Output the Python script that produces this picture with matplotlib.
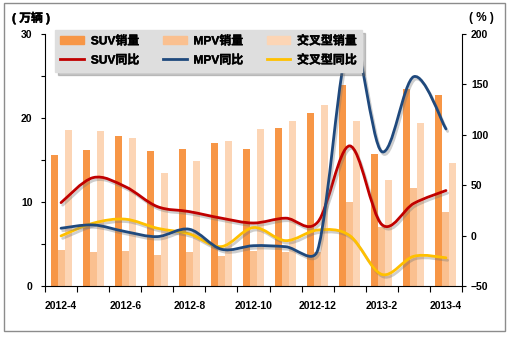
import matplotlib
matplotlib.use("Agg")
import matplotlib.pyplot as plt
import matplotlib.patheffects as pe
from matplotlib.path import Path
from matplotlib.patches import PathPatch, Patch, Rectangle
from matplotlib.lines import Line2D
import numpy as np

plt.rcParams['font.family'] = ['Liberation Sans', 'Noto Sans CJK SC', 'DejaVu Sans']

months = ['2012-4', '2012-5', '2012-6', '2012-7', '2012-8', '2012-9', '2012-10',
          '2012-11', '2012-12', '2013-1', '2013-2', '2013-3', '2013-4']

# sales, 10k vehicles
suv_sales = [15.6, 16.2, 17.9, 16.1, 16.3, 17.0, 16.3, 18.8, 20.6, 23.9, 15.7, 23.4, 22.7]
mpv_sales = [4.3, 4.0, 4.2, 3.7, 4.0, 3.6, 4.2, 4.0, 4.0, 10.0, 7.0, 11.7, 8.8]
cross_sales = [18.6, 18.5, 17.6, 13.5, 14.9, 17.3, 18.7, 19.6, 21.5, 19.6, 12.6, 19.4, 14.6]

# year-on-year growth, %
suv_yoy = [32.7, 57.5, 48.6, 28.8, 23.8, 17.3, 12.5, 17.3, 13.3, 89.0, 11.0, 32.0, 44.7]
mpv_yoy = [7.3, 10.6, 4.0, -1.0, 6.3, -13.5, -10.0, -11.0, -14.5, 195.0, 83.3, 157.7, 105.8]
cross_yoy = [-0.3, 12.3, 16.3, 7.3, 1.7, -10.9, 8.0, -5.0, 5.5, 0.0, -38.5, -20.5, -22.0]

c_suv, c_mpv, c_cross = '#F79646', '#FAC090', '#FCD5B5'
l_suv, l_mpv, l_cross = '#C00000', '#1F497D', '#FFC000'

W, H = 511, 337
AX_L, AX_B, AX_W, AX_H = 45, 51, 417, 252


def smooth_path(xs, ys, sx, sy):
    # spreadsheet-style smoothed line: Bezier segments whose control arms
    # are 1/6 of the neighbour chord, capped at half the segment length
    p = np.column_stack([np.asarray(xs) * sx, np.asarray(ys) * sy]).astype(float)
    ext = np.vstack([p[0], p, p[-1]])
    verts = [p[0]]
    codes = [Path.MOVETO]
    for i in range(len(p) - 1):
        p0, p1, p2, p3 = ext[i], ext[i + 1], ext[i + 2], ext[i + 3]
        d12 = np.hypot(*(p2 - p1))
        d02 = np.hypot(*(p2 - p0))
        d13 = np.hypot(*(p3 - p1))
        f1 = 1 / 6 if d02 / 6 < d12 / 2 else d12 / (2 * d02)
        f2 = 1 / 6 if d13 / 6 < d12 / 2 else d12 / (2 * d13)
        verts += [p1 + (p2 - p0) * f1, p2 - (p3 - p1) * f2, p2]
        codes += [Path.CURVE4] * 3
    v = np.array(verts)
    v[:, 0] /= sx
    v[:, 1] /= sy
    return Path(v, codes)


fig = plt.figure(figsize=(W / 100, H / 100), dpi=100)
ax = fig.add_axes([AX_L / W, AX_B / H, AX_W / W, AX_H / H])
ax2 = ax.twinx()

x = np.arange(len(months))
w = 0.218
ax.bar(x - w, suv_sales, w, color=c_suv, zorder=2)
ax.bar(x, mpv_sales, w, color=c_mpv, zorder=2)
ax.bar(x + w, cross_sales, w, color=c_cross, zorder=2)

ax.set_xlim(-0.5, len(months) - 0.5)
ax.set_ylim(0, 30)
ax2.set_ylim(-50, 200)

# pixel size of one data unit on each axis of the percentage scale
sx = AX_W / len(months)
sy = AX_H / 250

shadow = [pe.SimpleLineShadow(offset=(1.2, -1.8), shadow_color='0.45', alpha=0.35),
          pe.Normal()]
for vals, col in [(suv_yoy, l_suv), (cross_yoy, l_cross), (mpv_yoy, l_mpv)]:
    patch = PathPatch(smooth_path(x, vals, sx, sy), fill=False, edgecolor=col, lw=2.0,
                      capstyle='round', joinstyle='round', zorder=3)
    patch.set_path_effects(shadow)
    ax2.add_patch(patch)

ax.set_yticks(np.arange(0, 31, 5))
ax.set_yticklabels([str(v) if v % 10 == 0 else '' for v in range(0, 31, 5)])
ax2.set_yticks(np.arange(-50, 201, 50))

ax.set_xticks(np.arange(-0.5, len(months), 1))
ax.set_xticklabels([])
ax.set_xticks(x[::2], minor=True)
ax.set_xticklabels(months[::2], minor=True)
ax.tick_params(axis='x', which='major', length=4, width=0.8, direction='out')
ax.tick_params(axis='x', which='minor', length=0, pad=10.5, labelsize=7.5)
ax.tick_params(axis='y', length=3, width=0.8, pad=6.0, labelsize=7.5)
ax2.tick_params(axis='y', length=3, width=0.8, pad=3.5, labelsize=7.5)
for lab in ax.get_xticklabels(minor=True) + ax2.get_yticklabels() + ax.get_yticklabels():
    lab.set_fontweight('bold')

for s in ['top', 'right']:
    ax.spines[s].set_visible(False)
for s in ['top', 'left', 'bottom']:
    ax2.spines[s].set_visible(False)
for a in (ax, ax2):
    for s in a.spines.values():
        s.set_linewidth(0.8)

# thin stroke to thicken the CJK glyphs a little
bold_fx = [pe.withStroke(linewidth=0.3, foreground='black')]
t1 = fig.text(12 / W, 1 - 18 / H, '( 万辆 )', fontsize=8.5, fontweight='bold',
              ha='left', va='center')
t2 = fig.text(494 / W, 1 - 18 / H, '( % )', fontsize=8.5, fontweight='bold',
              ha='right', va='center')
t1.set_path_effects(bold_fx)

handles = [Patch(color=c_suv), Line2D([], [], color=l_suv, lw=2),
           Patch(color=c_mpv), Line2D([], [], color=l_mpv, lw=2),
           Patch(color=c_cross), Line2D([], [], color=l_cross, lw=2)]
labels = ['SUV销量', 'SUV同比', 'MPV销量', 'MPV同比', '交叉型销量', '交叉型同比']
leg = ax2.legend(handles, labels, ncol=3, loc='upper left',
                 bbox_to_anchor=(55 / W, 1 - 30 / H), bbox_transform=fig.transFigure,
                 borderaxespad=0, borderpad=0.45, labelspacing=0.6, handlelength=2.0,
                 handletextpad=0.55, columnspacing=2.0, fancybox=False,
                 facecolor='#dedede', edgecolor='#dedede', framealpha=1,
                 shadow={'color': '0.4', 'alpha': 0.35},
                 prop={'size': 8.6, 'weight': 'bold'})
leg.set_zorder(10)
for t in leg.get_texts():
    t.set_path_effects(bold_fx)

fig.patches.append(Rectangle((4 / W, 1 - 331 / H), 501 / W, 328 / H,
                             transform=fig.transFigure, fill=False,
                             edgecolor='#8c8c8c', lw=1.0))

fig.savefig('out.png', dpi=100)
